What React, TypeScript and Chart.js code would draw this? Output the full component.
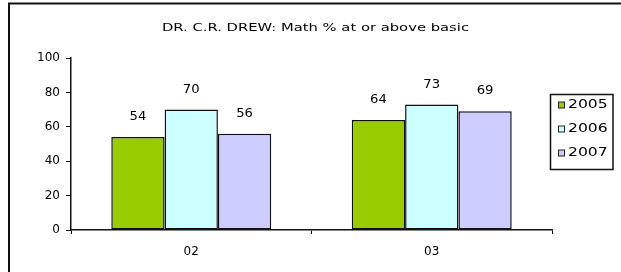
import React, { useEffect, useRef } from "react";
import { Chart, registerables } from "chart.js";

Chart.register(...registerables);

const titleText = "DR. C.R. DREW: Math % at or above basic";
const categories = ["02", "03"];
const seriesNames = ["2005", "2006", "2007"];
const values2005 = [54, 64];
const values2006 = [70, 73];
const values2007 = [56, 69];
const seriesColors = ["#99CC00", "#CCFFFF", "#CCCCFF"];
const yMin = 0;
const yMax = 100;
const yStep = 20;

const FONT_FAMILY = "'DejaVu Sans', Verdana, sans-serif";

function drawStretched(
  ctx: CanvasRenderingContext2D,
  text: string,
  x: number,
  y: number,
  font: string,
  sx: number,
  align: CanvasTextAlign
) {
  ctx.save();
  ctx.font = font;
  ctx.fillStyle = "#000";
  ctx.textBaseline = "middle";
  ctx.textAlign = align;
  ctx.translate(x, y);
  ctx.scale(sx, 1);
  ctx.fillText(text, 0, 0);
  ctx.restore();
}

const framePlugin = {
  id: "frame",
  afterDraw(chart: any) {
    const ctx = chart.ctx as CanvasRenderingContext2D;
    ctx.save();
    ctx.strokeStyle = "#111";
    ctx.lineWidth = 2;
    ctx.beginPath();
    ctx.moveTo(9, 272);
    ctx.lineTo(9, 3.5);
    ctx.lineTo(621, 3.5);
    ctx.stroke();
    ctx.restore();
  },
};

const titlePlugin = {
  id: "customTitle",
  afterDraw(chart: any) {
    const ctx = chart.ctx as CanvasRenderingContext2D;
    const font = `11px ${FONT_FAMILY}`;
    ctx.save();
    ctx.font = font;
    const w = ctx.measureText(titleText).width;
    ctx.restore();
    const sx = 307 / w;
    drawStretched(ctx, titleText, 315.5, 28, font, sx, "center");
  },
};

const valueLabelPlugin = {
  id: "valueLabels",
  afterDatasetsDraw(chart: any) {
    const ctx = chart.ctx as CanvasRenderingContext2D;
    chart.data.datasets.forEach((ds: any, i: number) => {
      const meta = chart.getDatasetMeta(i);
      meta.data.forEach((el: any, j: number) => {
        drawStretched(ctx, String(ds.data[j]), el.x, el.y - 20, `12px ${FONT_FAMILY}`, 1.1, "center");
      });
    });
  },
};

const legendPlugin = {
  id: "customLegend",
  afterDraw(chart: any) {
    const ctx = chart.ctx as CanvasRenderingContext2D;
    ctx.save();
    ctx.strokeStyle = "#111";
    ctx.lineWidth = 1.5;
    ctx.strokeRect(550.5, 94.5, 62.5, 75);
    const rowsY = [105, 129, 153];
    chart.data.datasets.forEach((ds: any, i: number) => {
      const y = rowsY[i];
      ctx.fillStyle = ds.backgroundColor;
      ctx.fillRect(558.5, y - 3, 6, 6);
      ctx.strokeStyle = "#222";
      ctx.lineWidth = 1;
      ctx.strokeRect(558.5, y - 3, 6, 6);
      drawStretched(ctx, ds.label, 568, y, `12px ${FONT_FAMILY}`, 1.3, "left");
    });
    ctx.restore();
  },
};

export default function App() {
  const canvasRef = useRef<HTMLCanvasElement | null>(null);

  useEffect(() => {
    if (!canvasRef.current) return;
    const seriesValues = [values2005, values2006, values2007];
    const chart = new Chart(canvasRef.current, {
      type: "bar",
      data: {
        labels: categories,
        datasets: seriesNames.map((name, i) => ({
          label: name,
          data: seriesValues[i],
          backgroundColor: seriesColors[i],
          borderColor: "#111",
          borderWidth: 1.5,
          borderSkipped: false,
          categoryPercentage: 0.665,
          barPercentage: 1.0,
        })),
      },
      options: {
        responsive: false,
        animation: false,
        devicePixelRatio: 1,
        layout: { padding: { top: 58, right: 69, left: 0, bottom: 0 } },
        plugins: {
          legend: { display: false },
          title: { display: false },
          tooltip: { enabled: false },
        },
        scales: {
          x: {
            offset: true,
            grid: {
              offset: true,
              drawOnChartArea: false,
              drawTicks: true,
              tickLength: 4,
              color: "#111",
            },
            border: { display: true, color: "#111", width: 1.5 },
            ticks: {
              color: "#000",
              font: { family: FONT_FAMILY, size: 12 },
              padding: 11,
            },
            afterFit: (s: any) => {
              s.height = 42;
            },
          },
          y: {
            min: yMin,
            max: yMax,
            ticks: {
              stepSize: yStep,
              color: "#000",
              font: { family: FONT_FAMILY, size: 12 },
              padding: 6,
            },
            grid: {
              drawOnChartArea: false,
              drawTicks: true,
              tickLength: 5,
              color: "#111",
            },
            border: { display: true, color: "#111", width: 1.5 },
            afterFit: (s: any) => {
              s.width = 71;
            },
          },
        },
      },
      plugins: [valueLabelPlugin, legendPlugin, titlePlugin, framePlugin],
    });
    return () => chart.destroy();
  }, []);

  return (
    <div style={{ position: "absolute", left: 0, top: 0, width: 621, height: 272, background: "#fff" }}>
      <canvas ref={canvasRef} width={621} height={272} style={{ display: "block" }} />
    </div>
  );
}
